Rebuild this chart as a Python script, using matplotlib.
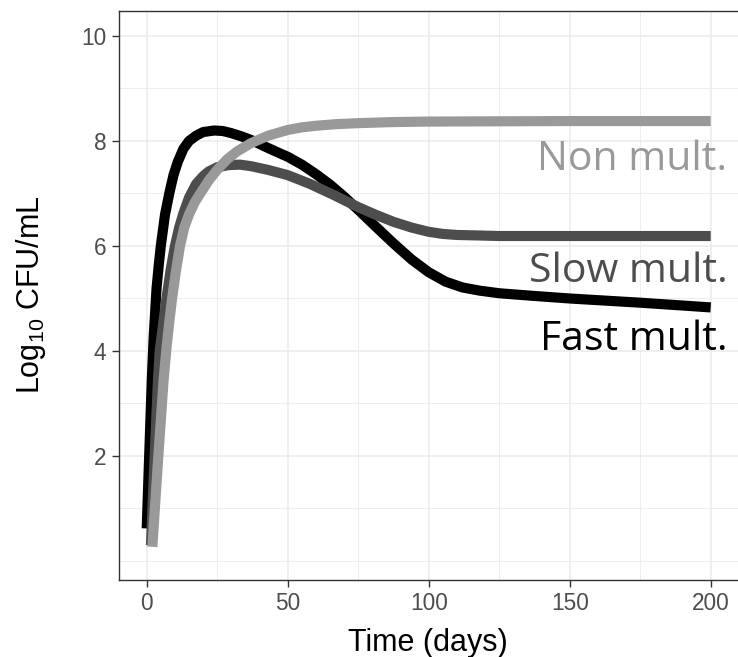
import matplotlib
matplotlib.use("Agg")
import matplotlib.pyplot as plt
from matplotlib.ticker import MultipleLocator

# ---- data ----
fast_t = [0, 1, 1.8, 2.5, 3.5, 4.3, 5, 6.5, 8, 9.5, 11, 13, 15, 17.5, 20, 24, 27, 30, 33.5, 37,
          42.5, 47, 50, 55, 60, 65, 70, 75, 81, 87.5, 94, 100, 106, 112, 118, 125, 137, 150, 175, 200]
fast_v = [0.62, 2.2, 3.45, 4.3, 5.2, 5.65, 6.0, 6.6, 7.0, 7.35, 7.6, 7.85, 8.0, 8.1, 8.17, 8.2, 8.19, 8.15, 8.09, 8.02,
          7.88, 7.77, 7.7, 7.55, 7.37, 7.17, 6.94, 6.69, 6.38, 6.05, 5.74, 5.5, 5.32, 5.21, 5.15, 5.1, 5.05, 5.0, 4.92, 4.83]

slow_t = [1.5, 2.5, 4, 4.6, 5.8, 7, 8.5, 10, 11.5, 13, 15, 17.5, 20, 22, 25, 29, 33, 37, 43, 50, 58, 66,
          75, 81, 87.5, 94, 100, 105, 110, 118, 125, 150, 200]
slow_v = [0.3, 1.6, 3.45, 4.0, 4.5, 5.0, 5.55, 6.0, 6.35, 6.62, 6.92, 7.18, 7.33, 7.42, 7.5, 7.54, 7.55, 7.52, 7.45, 7.35, 7.18, 6.98,
          6.74, 6.6, 6.46, 6.35, 6.27, 6.23, 6.21, 6.2, 6.19, 6.19, 6.19]

non_t = [2, 4, 6, 7, 8, 9, 10.3, 11.8, 13.3, 15, 17, 19, 22, 25, 28.5, 32, 37, 43, 50, 55, 60, 67, 75, 87, 100, 150, 200]
non_v = [0.27, 1.9, 3.45, 4.05, 4.55, 5.0, 5.5, 6.0, 6.35, 6.6, 6.83, 7.0, 7.25, 7.45, 7.65, 7.8, 7.96, 8.1, 8.21, 8.26, 8.29, 8.32, 8.34, 8.36, 8.37, 8.38, 8.38]

series_labels = ["Fast mult.", "Slow mult.", "Non mult."]
x_ticks = [0, 50, 100, 150, 200]
y_ticks = [2, 4, 6, 8, 10]
x_title = "Time (days)"
y_title = r"Log$_{10}$ CFU/mL"

# ---- style ----
plt.rcParams["font.family"] = ["Liberation Sans", "DejaVu Sans"]
plt.rcParams["mathtext.fontset"] = "custom"
plt.rcParams["mathtext.rm"] = "Liberation Sans"
plt.rcParams["mathtext.it"] = "Liberation Sans"

colors = ["#000000", "#4d4d4d", "#999999"]

W, H = 738, 657
fig = plt.figure(figsize=(W / 100, H / 100), dpi=100)
# x: 0 -> 146.7 px, 2.82 px per day; y: 0 -> 561 px from top, 52.5 px per unit
ax = fig.add_axes([118.5 / W, 77 / H, (225 * 2.82) / W, 569 / H])

for t, v, c in zip([fast_t, slow_t, non_t], [fast_v, slow_v, non_v], colors):
    ax.plot(t, v, color=c, lw=7.3, solid_capstyle="butt", solid_joinstyle="round", zorder=3)

ax.set_xlim(-10, 215)
ax.set_ylim(-0.362, 10.476)
ax.set_xticks(x_ticks)
ax.set_yticks(y_ticks)
ax.xaxis.set_minor_locator(MultipleLocator(25))
ax.yaxis.set_minor_locator(MultipleLocator(1))
ax.set_axisbelow(True)
ax.grid(which="major", color="#ebebeb", lw=1.1)
ax.grid(which="minor", color="#ebebeb", lw=0.6)
ax.tick_params(which="minor", length=0)
ax.tick_params(which="major", length=4.8, width=1.0, color="#333333",
               labelsize=16.3, labelcolor="#4d4d4d", pad=4)
for s in ax.spines.values():
    s.set_color("#333333")
    s.set_linewidth(1.0)

fig.text(428 / W, (H - 650.5) / H, x_title, fontsize=22, ha="center", va="baseline")
fig.text(31 / W, (H - 295) / H, y_title, fontsize=22, rotation=90, ha="center", va="center")

# annotations (right edge ~727 px, baselines at 350, 282, 170 px from top)
ann_pos = [(206, 4.02), (206, 5.32), (206, 7.45)]
for lab, c, (x, y) in zip(series_labels, colors, ann_pos):
    ax.text(x, y, lab, color=c, fontsize=29.5, family=["Open Sans", "DejaVu Sans"],
            ha="right", va="baseline", clip_on=False, zorder=4)

fig.savefig("out.png", dpi=100)
